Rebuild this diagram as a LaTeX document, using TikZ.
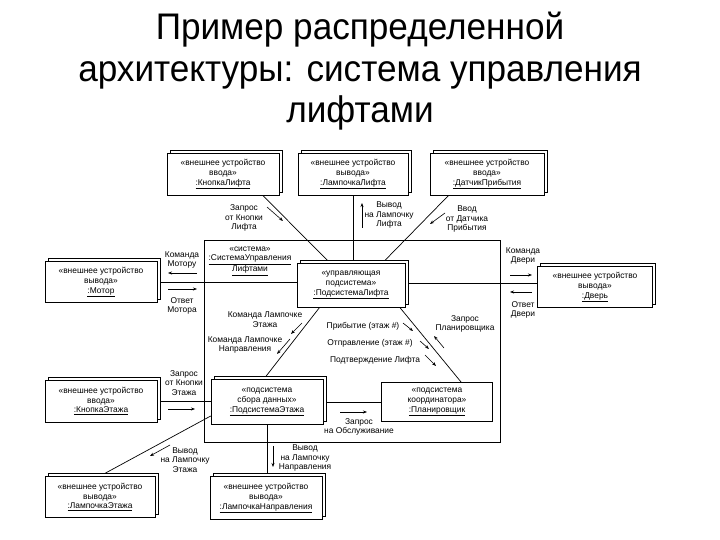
\documentclass[tikz,border=0pt]{standalone}
\usepackage{fontspec}
\setmainfont{Liberation Sans}
\newfontfamily\titlefont[FakeStretch=0.95]{Liberation Sans}
\usetikzlibrary{shadows,arrows.meta}
\pgfdeclarelayer{bg}
\pgfsetlayers{bg,main}
\begin{document}
\begin{tikzpicture}[x=1pt,y=-1pt,
  txt/.style={font=\fontsize{8.4}{9.8}\selectfont},
  dev/.style={txt,draw,fill=white,line width=0.6pt,align=center,inner sep=0pt,
    copy shadow={shadow xshift=3pt,shadow yshift=3pt}},
  single/.style={txt,draw,fill=white,line width=0.6pt,align=center,inner sep=0pt},
  lab/.style={txt,align=center,inner sep=0pt},
  conn/.style={line width=0.7pt},
  arr/.style={-{Stealth[length=4pt,width=3pt]},line width=0.6pt},
  ttl/.style={font=\titlefont\fontsize{37}{41}\selectfont,anchor=base,inner sep=0pt}]
\useasboundingbox (0,0) rectangle (720,540);
\begin{pgfonlayer}{bg}
\fill[white] (0,0) rectangle (720,540);
\end{pgfonlayer}

% title
\node[ttl] (t1) at (360,40) {Пример распределенной};
\node[ttl] (t2) at (360,82) {архитектуры: система управления};
\node[ttl] (t3) at (360,123) {лифтами};

% system box
\node[draw,line width=0.7pt,minimum width=296pt,minimum height=202pt,inner sep=0pt] (sys) at (352,341) {};
\node[lab] (syslab) at (250,261) {«система»\\\underline{:СистемаУправления}\\\underline{Лифтами}};

% devices
\node[dev,minimum width=112pt,minimum height=42pt] (b1) at (223,174) {«внешнее устройство\\ввода»\\\underline{:КнопкаЛифта}};
\node[dev,minimum width=110pt,minimum height=42pt] (b2) at (353,174) {«внешнее устройство\\вывода»\\\underline{:ЛампочкаЛифта}};
\node[dev,minimum width=114pt,minimum height=42pt] (b3) at (487,174) {«внешнее устройство\\ввода»\\\underline{:ДатчикПрибытия}};
\node[dev,minimum width=112pt,minimum height=41pt] (mot) at (101,282) {«внешнее устройство\\вывода»\\\underline{:Мотор}};
\node[dev,minimum width=115pt,minimum height=41pt] (door) at (595,287) {«внешнее устройство\\вывода»\\\underline{:Дверь}};
\node[dev,minimum width=108pt,minimum height=44pt] (pl) at (351,285) {«управляющая\\подсистема»\\\underline{:ПодсистемаЛифта}};
\node[dev,minimum width=112pt,minimum height=42pt] (ke) at (101,401) {«внешнее устройство\\ввода»\\\underline{:КнопкаЭтажа}};
\node[dev,minimum width=112pt,minimum height=45pt] (pe) at (267,402) {«подсистема\\сбора данных»\\\underline{:ПодсистемаЭтажа}};
\node[single,minimum width=111pt,minimum height=39pt] (plan) at (437,402) {«подсистема\\координатора»\\\underline{:Планировщик}};
\node[dev,minimum width=110pt,minimum height=41pt] (le) at (100,497) {«внешнее устройство\\вывода»\\\underline{:ЛампочкаЭтажа}};
\node[dev,minimum width=112pt,minimum height=43pt] (ln) at (266,498) {«внешнее устройство\\вывода»\\\underline{:ЛампочкаНаправления}};

% connectors (behind the boxes)
\begin{pgfonlayer}{bg}
\draw[conn] ([xshift=96pt]b1.south west) -- ([xshift=33pt]pl.north west);
\draw[conn] (b2.south) -- (b2.south |- pl.north);
\draw[conn] ([xshift=19pt]b3.south west) -- ([xshift=86pt]pl.north west);
\draw[conn] (mot.east) -- (mot.east -| pl.west);
\draw[conn] ([yshift=2pt]pl.east) -- ([yshift=2pt]pl.east -| door.west);
\draw[conn] ([xshift=23pt]pl.south west) -- ([xshift=53pt]pe.north west);
\draw[conn] ([xshift=103pt]pl.south west) -- ([xshift=80pt]plan.north west);
\draw[conn] (ke.east) -- (ke.east -| pe.west);
\draw[conn] (pe.east) -- (pe.east -| plan.west);
\draw[conn] ([yshift=-14pt]pe.west) -- ([xshift=55pt]le.north west);
\draw[conn] (pe.south) -- (pe.south |- ln.north);
\end{pgfonlayer}

% message labels and arrows
\node[lab] (m1) at (244,218) {Запрос\\от Кнопки\\Лифта};
\draw[arr] (267,207) -- (283,221);
\node[lab] (m2) at (389,215) {Вывод\\на Лампочку\\Лифта};
\draw[arr] (362,228) -- (362,203);
\node[lab] (m3) at (467,219) {Ввод\\от Датчика\\Прибытия};
\draw[arr] (445,213) -- (430,224);

\node[lab] (m4) at (182,260) {Команда\\Мотору};
\draw[arr] (197,273) -- (168,273);
\node[lab] (m5) at (182,306) {Ответ\\Мотора};
\draw[arr] (168,289) -- (197,289);
\node[lab] (m6) at (523,256) {Команда\\Двери};
\draw[arr] (510,275) -- (532,275);
\node[lab] (m7) at (523,310) {Ответ\\Двери};
\draw[arr] (532,292) -- (510,292);

\node[lab] (m8) at (265,320) {Команда Лампочке\\Этажа};
\draw[arr] (302,323) -- (291,334);
\node[lab] (m9) at (245,345) {Команда Лампочке\\Направления};
\draw[arr] (290,339) -- (277,354);
\node[lab] (m10) at (363,326) {Прибытие (этаж \#)};
\draw[arr] (403,323) -- (413,331);
\node[lab] (m11) at (370,343) {Отправление (этаж \#)};
\draw[arr] (420,341) -- (429,349);
\node[lab] (m12) at (375,360) {Подтверждение Лифта};
\draw[arr] (425,355) -- (436,366);
\node[lab] (m13) at (465,324) {Запрос\\Планировщика};
\draw[arr] (444,348) -- (434,336);

\node[lab] (m14) at (184,383) {Запрос\\от Кнопки\\Этажа};
\draw[arr] (168,409) -- (195,409);
\node[lab] (m15) at (359,427) {Запрос\\на Обслуживание};
\draw[arr] (340,412) -- (367,412);
\node[lab] (m16) at (185,460) {Вывод\\на Лампочку\\Этажа};
\draw[arr] (170,445) -- (150,456);
\node[lab] (m17) at (305,458) {Вывод\\на Лампочку\\Направления};
\draw[arr] (273,446) -- (273,467);
\end{tikzpicture}
\end{document}
